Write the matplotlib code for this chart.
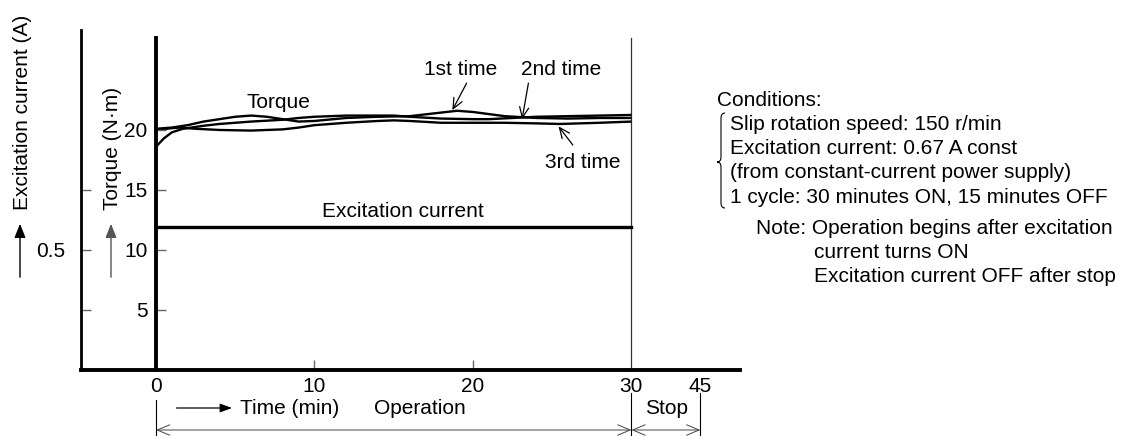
import numpy as np
import matplotlib
matplotlib.use("Agg")
import matplotlib.pyplot as plt
from matplotlib.path import Path
from matplotlib.patches import PathPatch, FancyArrowPatch
from matplotlib.transforms import blended_transform_factory

plt.rcParams["font.family"] = ["Liberation Sans", "DejaVu Sans"]
plt.rcParams["font.size"] = 15

W, H = 1131, 436

# ── Data ────────────────────────────────────────────────────────────────────
t_run1 = [0, 1, 2, 3, 4, 5, 6, 7, 8, 9, 10, 12, 14, 16, 18, 19, 20, 22, 24, 26, 28, 30]
torque_run1 = [20.1, 20.2, 20.4, 20.7, 20.9, 21.1, 21.2, 21.1, 20.9, 20.7, 20.75, 21.0,
               21.1, 21.15, 21.45, 21.6, 21.5, 21.15, 21.0, 20.95, 21.0, 21.0]

t_run2 = [0, 0.5, 1, 1.7, 3, 4, 6, 8, 9, 10, 12, 14, 15, 16, 18, 20, 21, 24, 26, 28, 30]
torque_run2 = [18.6, 19.3, 19.8, 20.1, 20.35, 20.5, 20.7, 20.85, 21.0, 21.1, 21.2, 21.2,
               21.2, 21.1, 20.95, 20.9, 20.9, 21.1, 21.15, 21.2, 21.25]

t_run3 = [0, 1, 1.5, 2.5, 4, 6, 8, 9, 10, 12, 14, 15, 16, 18, 20, 22, 24, 25.5, 28, 30]
torque_run3 = [20.0, 20.15, 20.2, 20.1, 20.0, 19.95, 20.05, 20.2, 20.4, 20.6, 20.75, 20.8,
               20.75, 20.6, 20.6, 20.6, 20.55, 20.5, 20.6, 20.7]

# excitation current trace, plotted on the torque scale (10 units = 0.5 A)
exc_time = [0, 30]
exc_level = [11.9, 11.9]

time_ticks = [0, 10, 20, 30, 45]
torque_ticks = [5, 10, 15, 20]
current_ticks = [5, 10, 15]
current_labels = ["", "0.5", ""]

conditions = [
    "Slip rotation speed: 150 r/min",
    "Excitation current: 0.67 A const",
    "(from constant-current power supply)",
    "1 cycle: 30 minutes ON, 15 minutes OFF",
]
notes = ["current turns ON", "Excitation current OFF after stop"]


def time_pos(t):
    # the 15 min stop interval is drawn compressed
    return t if t <= 30 else 30 + (t - 30) * 0.29


def fx(px):
    return px / W


def fy(py):
    return 1 - py / H


fig = plt.figure(figsize=(W / 100, H / 100), dpi=100)

left, right, top, bottom = 81, 740, 30, 370
ax = fig.add_axes([fx(left), fy(bottom), (right - left) / W, (bottom - top) / H])
ax.set_xlim(-4.73, 36.85)
ax.set_ylim(0, 28.33)
for s in ("top", "right"):
    ax.spines[s].set_visible(False)
ax.spines["left"].set_linewidth(2.0)
ax.spines["bottom"].set_linewidth(2.8)

# outer (excitation current) axis
ax.set_yticks(current_ticks)
ax.set_yticklabels(current_labels)
ax.tick_params(axis="y", direction="in", length=7, width=1, color="#666666", pad=11)

# time axis
ax.set_xticks([time_pos(t) for t in time_ticks])
ax.set_xticklabels([str(t) for t in time_ticks])
ax.tick_params(axis="x", direction="in", length=7, width=1, color="#666666", pad=5)
for tick, t in zip(ax.xaxis.get_major_ticks(), time_ticks):
    if t not in (10, 20):
        tick.tick1line.set_visible(False)

# inner (torque) axis
ax2 = fig.add_axes([fx(156), fy(bottom), (right - 156) / W, (bottom - top) / H])
ax2.set_ylim(0, 28.33)
ax2.patch.set_visible(False)
for s in ("top", "right", "bottom"):
    ax2.spines[s].set_visible(False)
ax2.spines["left"].set_linewidth(2.8)
ax2.spines["left"].set_bounds(0, 27.7)
ax2.set_xticks([])
ax2.set_yticks(torque_ticks)
ax2.tick_params(axis="y", direction="in", length=7, width=1, color="#666666", pad=6)

# end of operation marker
ax.plot([30, 30], [0, 27.7], color="#333333", lw=0.9)

# torque traces
for tt, vv in [(t_run1, torque_run1), (t_run2, torque_run2), (t_run3, torque_run3)]:
    ax.plot(tt, vv, color="black", lw=1.7, solid_capstyle="butt")

# excitation current
ax.plot(exc_time, exc_level, color="black", lw=2.4)

# curve labels
ax.text(7.75, 22.3, "Torque", ha="center", va="center")
ax.text(15.6, 13.2, "Excitation current", ha="center", va="center")
arrow_kw = dict(arrowstyle="->,head_length=0.5,head_width=0.22", lw=0.9, color="black",
                shrinkA=0, shrinkB=0)
ax.text(19.2, 25.0, "1st time", ha="center", va="center")
ax.annotate("", xy=(18.7, 21.65), xytext=(19.6, 23.9), arrowprops=arrow_kw)
ax.text(25.55, 25.0, "2nd time", ha="center", va="center")
ax.annotate("", xy=(23.1, 20.9), xytext=(23.5, 23.9), arrowprops=arrow_kw)
ax.text(26.9, 17.3, "3rd time", ha="center", va="center")
ax.annotate("", xy=(25.4, 20.3), xytext=(26.3, 18.75), arrowprops=arrow_kw)

# axis titles with upward arrows
fig.text(fx(22), fy(112), "Excitation current (A)", rotation=90, ha="center", va="center")
fig.text(fx(113), fy(148), "Torque (N\u00b7m)", rotation=90, ha="center", va="center")
up_kw = dict(arrowstyle="-|>,head_length=0.7,head_width=0.28", mutation_scale=12, lw=1.0)
fig.add_artist(FancyArrowPatch((fx(20), fy(280)), (fx(20), fy(221)),
                               transform=fig.transFigure, color="black", **up_kw))
fig.add_artist(FancyArrowPatch((fx(111), fy(280)), (fx(111), fy(221)),
                               transform=fig.transFigure, color="#555555", **up_kw))

# time axis annotations below the axis
bt = blended_transform_factory(ax.transData, fig.transFigure)
ax.plot([0, 0], [fy(400), 0], color="black", lw=0.8, transform=bt, clip_on=False)
for t in (30, 45):
    ax.plot([time_pos(t)] * 2, [fy(393), 0], color="black", lw=0.8, transform=bt,
            clip_on=False)
span_kw = dict(arrowstyle="<->,head_length=0.6,head_width=0.25", lw=0.7, color="#444444",
               shrinkA=0, shrinkB=0)
ax.annotate("", xy=(0, fy(430)), xytext=(30, fy(430)), xycoords=bt, textcoords=bt,
            arrowprops=span_kw, annotation_clip=False)
ax.annotate("", xy=(30, fy(430)), xytext=(time_pos(45), fy(430)), xycoords=bt,
            textcoords=bt, arrowprops=span_kw, annotation_clip=False)
ax.annotate("", xy=(4.8, fy(408)), xytext=(1.3, fy(408)), xycoords=bt, textcoords=bt,
            arrowprops=dict(arrowstyle="-|>,head_length=0.6,head_width=0.22",
                            mutation_scale=12, lw=0.9, color="black", shrinkA=0, shrinkB=0),
            annotation_clip=False)
ax.text(5.3, fy(408), "Time (min)", transform=bt, ha="left", va="center")
ax.text(16.65, fy(408), "Operation", transform=bt, ha="center", va="center")
ax.text(32.2, fy(408), "Stop", transform=bt, ha="center", va="center")

# test conditions block
fig.text(fx(717), fy(101), "Conditions:", ha="left", va="center")
for i, line in enumerate(conditions):
    fig.text(fx(730), fy(125 + 24 * i), line, ha="left", va="center")
fig.text(fx(756), fy(228), "Note: Operation begins after excitation", ha="left", va="center")
for i, line in enumerate(notes):
    fig.text(fx(814), fy(252 + 24 * i), line, ha="left", va="center")

# curly brace grouping the conditions
bx, btop, bmid, bbot = 725, 113, 162, 208
verts = [(bx, btop), (bx - 4, btop), (bx - 4, btop + 5),
         (bx - 4, bmid - 5),
         (bx - 4, bmid), (bx - 8, bmid), (bx - 8, bmid),
         (bx - 4, bmid), (bx - 4, bmid + 5),
         (bx - 4, bbot - 5),
         (bx - 4, bbot), (bx, bbot), (bx, bbot)]
codes = [Path.MOVETO, Path.CURVE3, Path.CURVE3,
         Path.LINETO,
         Path.CURVE3, Path.CURVE3, Path.LINETO,
         Path.CURVE3, Path.CURVE3,
         Path.LINETO,
         Path.CURVE3, Path.CURVE3, Path.LINETO]
brace = Path([(fx(x), fy(y)) for x, y in verts], codes)
fig.add_artist(PathPatch(brace, transform=fig.transFigure, fill=False, lw=0.8,
                         edgecolor="black"))

fig.savefig("out.png", dpi=100)
